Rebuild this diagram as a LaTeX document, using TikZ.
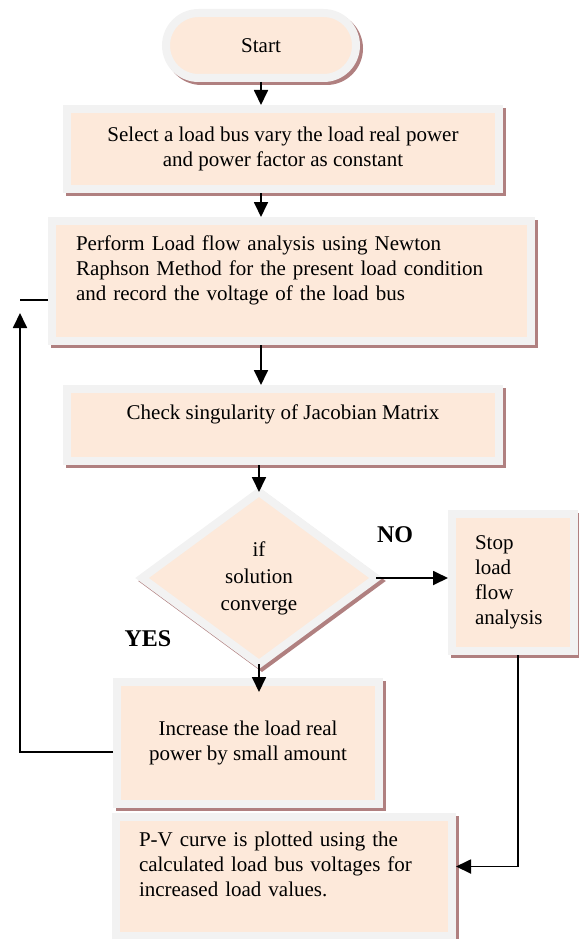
\documentclass[tikz,border=0pt]{standalone}
\usepackage{fontspec}
\setmainfont{Liberation Serif}
\usetikzlibrary{arrows.meta,shapes.geometric,shadows,calc}
\definecolor{peach}{RGB}{253,233,218}
\definecolor{rim}{RGB}{242,242,242}
\definecolor{shade}{RGB}{176,128,128}
\begin{document}
\begin{tikzpicture}[x=1pt,y=-1pt,
  shad/.style={general shadow={draw=shade, fill=shade, line width=8pt, shadow xshift=3pt, shadow yshift=-3pt}},
  box/.style={rectangle, draw=rim, fill=peach, line width=8pt, inner sep=0pt, outer sep=4pt,
    font=\fontsize{21}{25}\selectfont, align=center, shad},
  decision/.style={diamond, draw=rim, fill=peach, line width=8pt, inner sep=0pt, outer sep=0pt,
    aspect=1.36, font=\fontsize{21}{27}\selectfont, align=center, shad},
  arr/.style={draw=black, line width=1.8pt, -{Triangle[length=15pt,width=14pt]}},
  plain/.style={draw=black, line width=1.8pt},
  lbl/.style={font=\fontsize{24}{28}\selectfont\bfseries, inner sep=0pt}]
\useasboundingbox (0,0) rectangle (578,939);

\node[box, rounded corners=32.5pt, minimum width=190, minimum height=65] (start) at (261,45.5) {Start};
\node[box, minimum width=432, minimum height=80] (select) at (283,149)
  {Select a load bus vary the load real power\\and power factor as constant};
\node[box, minimum width=479, minimum height=120, text width=431, align=left] (perform) at (291.5,281)
  {Perform Load flow analysis using Newton\\Raphson Method for the present load condition\\and record the voltage of the load bus\\\mbox{}};
\node[box, minimum width=432, minimum height=72] (check) at (283,425)
  {Check singularity of Jacobian Matrix\\\mbox{}};
\node[decision, minimum width=234, minimum height=172] (dia) at (259,578)
  {if\\solution\\converge};
\node[box, minimum width=122, minimum height=137, text width=76, align=left] (stop) at (513,582.5)
  {Stop\\load\\flow\\analysis};
\node[box, minimum width=262, minimum height=122] (inc) at (248,743)
  {Increase the load real\\power by small amount};
\node[box, minimum width=336, minimum height=119, text width=290, align=left] (pv) at (284,876.5)
  {P-V curve is plotted using the\\calculated load bus voltages for\\increased load values.\\\mbox{}};

\node[lbl] (no) at (395,535) {NO};
\node[lbl] (yes) at (148,639) {YES};

\draw[arr] (start.south) -- (start.south |- select.north);
\draw[arr] (select.south -| start.south) -- (perform.north -| start.south);
\draw[arr] (perform.south -| start.south) -- (check.north -| start.south);
\draw[arr] (check.south -| dia.north) -- (dia.north);
\draw[arr] (dia.east) -- (dia.east -| stop.west);
\draw[arr] (dia.south) -- ($(dia.south |- inc.north)+(0,14)$);
\draw[arr] ([xshift=5pt]stop.south) |- ($(pv.east)+(0,-10)$);
\coordinate (fbtop) at (20,313);
\coordinate (fbin) at (20,300);
\draw[arr] ($(inc.west)+(0,9)$) -| (fbtop);
\draw[plain] (fbin) -- (fbin -| perform.west);
\end{tikzpicture}
\end{document}
